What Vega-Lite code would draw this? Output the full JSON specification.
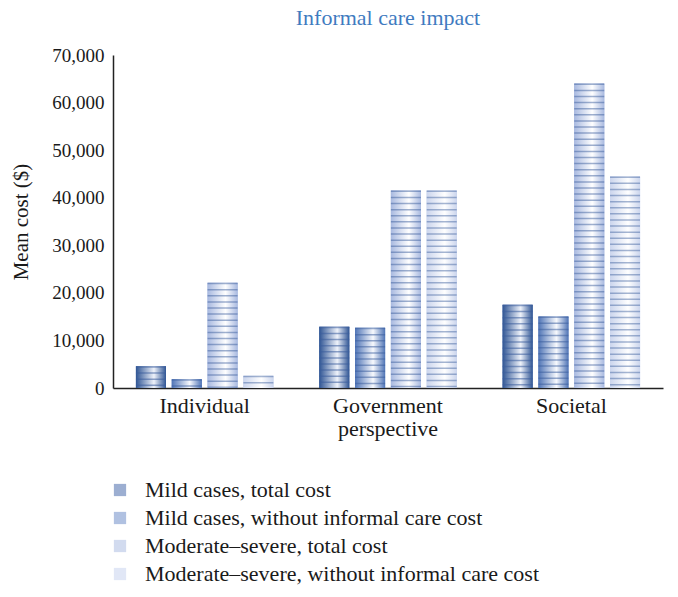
{
  "$schema": "https://vega.github.io/schema/vega-lite/v6.json",
  "autosize": "none",
  "width": 550,
  "height": 333,
  "padding": {"left": 113, "top": 55, "right": 15, "bottom": 209},
  "background": "white",
  "config": {
    "view": {"stroke": null},
    "font": "Liberation Serif",
    "axis": {"labelFont": "Liberation Serif", "titleFont": "Liberation Serif", "labelColor": "#1a1a1a", "titleColor": "#1a1a1a", "grid": false},
    "legend": {"labelFont": "Liberation Serif", "labelColor": "#1a1a1a"}
  },
  "title": {
    "text": "Informal care impact",
    "color": "#3f7bbf",
    "font": "Liberation Serif",
    "fontSize": 22,
    "fontWeight": "normal",
    "anchor": "middle",
    "offset": 16
  },
  "data": {
    "values": [
      {"group": "Individual", "series": "Mild cases, total cost", "cost": 4580},
      {"group": "Individual", "series": "Mild cases, without informal care cost", "cost": 1850},
      {"group": "Individual", "series": "Moderate–severe, total cost", "cost": 22100},
      {"group": "Individual", "series": "Moderate–severe, without informal care cost", "cost": 2560},
      {"group": "Government perspective", "series": "Mild cases, total cost", "cost": 12900},
      {"group": "Government perspective", "series": "Mild cases, without informal care cost", "cost": 12650},
      {"group": "Government perspective", "series": "Moderate–severe, total cost", "cost": 41500},
      {"group": "Government perspective", "series": "Moderate–severe, without informal care cost", "cost": 41500},
      {"group": "Societal", "series": "Mild cases, total cost", "cost": 17500},
      {"group": "Societal", "series": "Mild cases, without informal care cost", "cost": 15030},
      {"group": "Societal", "series": "Moderate–severe, total cost", "cost": 64000},
      {"group": "Societal", "series": "Moderate–severe, without informal care cost", "cost": 44460}
    ]
  },
  "encoding": {
    "x": {
      "field": "group",
      "type": "nominal",
      "sort": ["Individual", "Government perspective", "Societal"],
      "scale": {"paddingInner": 0.25, "paddingOuter": 0.125},
      "axis": {
        "title": null,
        "labelAngle": 0,
        "labelFontSize": 22,
        "labelPadding": 7,
        "ticks": false,
        "domainColor": "#222222",
        "domainWidth": 1.5,
        "labelExpr": "datum.label == 'Government perspective' ? ['Government', 'perspective'] : datum.label",
        "labelLineHeight": 23
      }
    },
    "xOffset": {
      "field": "series",
      "type": "nominal",
      "scale": {
        "domain": ["Mild cases, total cost", "Mild cases, without informal care cost", "Moderate–severe, total cost", "Moderate–severe, without informal care cost"],
        "paddingInner": 0.16,
        "paddingOuter": 0
      }
    },
    "y": {
      "field": "cost",
      "type": "quantitative",
      "scale": {"domain": [0, 70000], "nice": false},
      "axis": {
        "title": "Mean cost ($)",
        "titleFontSize": 21,
        "titleFontWeight": "normal",
        "titlePadding": 20,
        "labelFontSize": 19,
        "labelPadding": 9,
        "ticks": false,
        "values": [0, 10000, 20000, 30000, 40000, 50000, 60000, 70000],
        "format": ",d",
        "domainColor": "#222222",
        "domainWidth": 1.5
      }
    }
  },
  "layer": [
    {
      "mark": {"type": "bar"},
      "encoding": {
        "color": {
          "field": "series",
          "type": "nominal",
          "scale": {
            "domain": ["Mild cases, total cost", "Mild cases, without informal care cost", "Moderate–severe, total cost", "Moderate–severe, without informal care cost"],
            "range": ["#4a6cab", "#6688c6", "#a2b4de", "#bccaea"]
          },
          "legend": {
            "title": null,
            "orient": "none",
            "legendX": -4,
            "legendY": 424,
            "direction": "vertical",
            "labelFontSize": 22,
            "symbolType": "square",
            "symbolSize": 150,
            "symbolStrokeWidth": 0,
            "rowPadding": 6,
            "labelOffset": 14,
            "padding": 0,
            "labelLimit": 500
          }
        }
      }
    },
    {
      "transform": [{"filter": "datum.series == 'Mild cases, total cost'"}],
      "mark": {"type": "bar", "fill": {"gradient": "linear", "x1": 0, "y1": 0, "x2": 1, "y2": 0, "stops": [{"offset": 0, "color": "#2f5594"}, {"offset": 0.6, "color": "#eef2fa"}, {"offset": 1, "color": "#2f5594"}]}}
    },
    {
      "transform": [{"filter": "datum.series == 'Mild cases, without informal care cost'"}],
      "mark": {"type": "bar", "fill": {"gradient": "linear", "x1": 0, "y1": 0, "x2": 1, "y2": 0, "stops": [{"offset": 0, "color": "#4f74b6"}, {"offset": 0.6, "color": "#f7f9fd"}, {"offset": 1, "color": "#4f74b6"}]}}
    },
    {
      "transform": [{"filter": "datum.series == 'Moderate–severe, total cost'"}],
      "mark": {"type": "bar", "fill": {"gradient": "linear", "x1": 0, "y1": 0, "x2": 1, "y2": 0, "stops": [{"offset": 0, "color": "#a8b9e0"}, {"offset": 0.6, "color": "#ffffff"}, {"offset": 1, "color": "#a8b9e0"}]}}
    },
    {
      "transform": [{"filter": "datum.series == 'Moderate–severe, without informal care cost'"}],
      "mark": {"type": "bar", "fill": {"gradient": "linear", "x1": 0, "y1": 0, "x2": 1, "y2": 0, "stops": [{"offset": 0, "color": "#cbd5ed"}, {"offset": 0.6, "color": "#ffffff"}, {"offset": 1, "color": "#cbd5ed"}]}}
    },
    {
      "mark": {"type": "rule", "stroke": "#3a5d9c", "strokeWidth": 30, "strokeDash": [1.5, 4.6], "strokeCap": "butt"},
      "encoding": {
        "y2": {"datum": 0},
        "opacity": {
          "field": "series",
          "type": "nominal",
          "scale": {
            "domain": ["Mild cases, total cost", "Mild cases, without informal care cost", "Moderate–severe, total cost", "Moderate–severe, without informal care cost"],
            "range": [0.55, 0.45, 0.3, 0.15]
          },
          "legend": null
        }
      }
    }
  ]
}
